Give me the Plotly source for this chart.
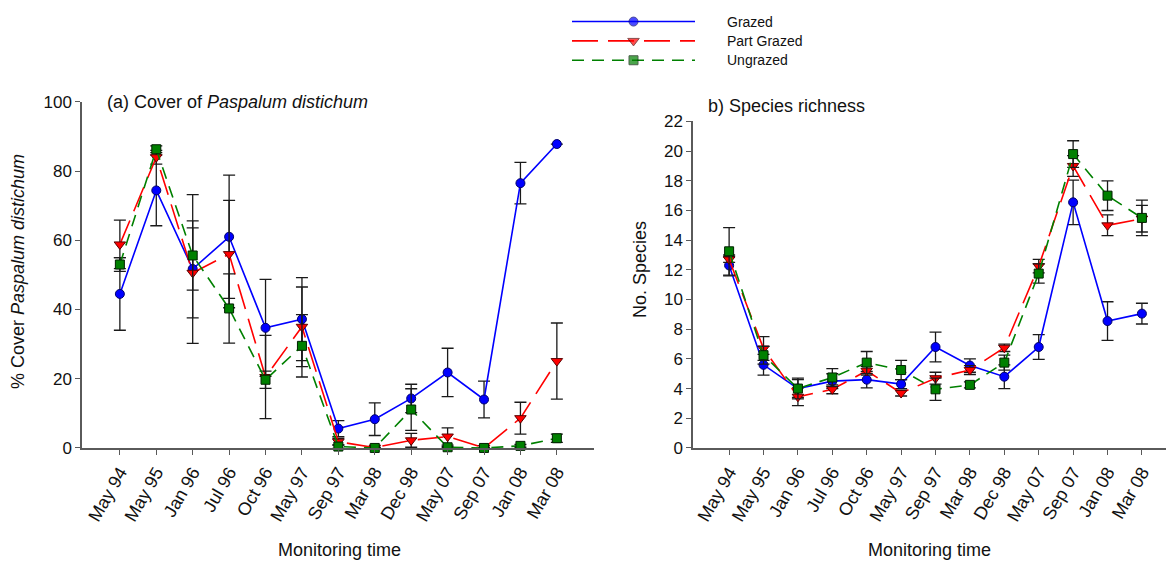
import math
import plotly.graph_objects as go

# Monitoring dates (categories on both panels)
months = ["May 94", "May 95", "Jan 96", "Jul 96", "Oct 96", "May 97", "Sep 97",
          "Mar 98", "Dec 98", "May 07", "Sep 07", "Jan 08", "Mar 08"]

NA = float("nan")

# (a) % cover of Paspalum distichum, mean and standard error
grazed_cover = [44.5, 74.4, 51.7, 61.0, 34.7, 37.2, 5.6, 8.3, 14.3, 21.8, 14.0, 76.5, 87.8]
grazed_cover_se = [10.5, 10.2, 21.5, 17.8, 14.0, 12.0, 2.3, 4.7, 4.1, 7.0, 5.3, 6.0, NA]
part_cover = [58.8, 84.0, 50.6, 56.0, 20.5, 35.0, 1.8, 0.1, 2.2, 3.3, 0.0, 8.6, 25.1]
part_cover_se = [7.0, 2.0, 13.0, 15.5, 12.0, 11.5, 1.0, 0.1, 2.0, 2.5, 0.0, 4.6, 11.0]
ungrazed_cover = [53.0, 86.3, 55.6, 40.3, 19.7, 29.5, 0.4, 0.0, 11.1, 0.2, 0.0, 0.6, 2.8]
ungrazed_cover_se = [2.0, 1.0, 10.0, 10.0, 2.5, 9.0, 0.5, 0.0, 6.0, 0.2, 0.0, 0.4, 1.2]

# (b) species richness, mean and standard error
grazed_rich = [12.3, 5.6, 4.0, 4.5, 4.6, 4.3, 6.8, 5.55, 4.8, 6.8, 16.55, 8.55, 9.05]
grazed_rich_se = [0.7, 0.7, 0.6, 0.5, 0.55, 0.3, 1.0, 0.45, 0.8, 0.83, 1.5, 1.3, 0.7]
part_rich = [12.7, 6.7, 3.45, 3.95, 5.2, 3.7, 4.7, 5.25, 6.75, 12.25, 19.0, 15.0, 15.45]
part_rich_se = [0.2, 0.8, 0.6, 0.3, 0.3, 0.2, 0.4, 0.3, 0.25, 0.45, 0.7, 0.7, 0.9]
ungrazed_rich = [13.25, 6.25, 4.0, 4.75, 5.75, 5.25, 3.95, 4.25, 5.75, 11.75, 19.8, 17.0, 15.5]
ungrazed_rich_se = [1.6, 0.6, 0.7, 0.6, 0.75, 0.65, 0.75, 0.2, 0.5, 0.65, 0.9, 1.0, 1.2]

treatments = ["Grazed", "Part Grazed", "Ungrazed"]

FONT = "Liberation Sans, Arial, sans-serif"
W, H = 1166, 573

styles = {
    "Grazed": dict(color="#0000FF", dash="solid", symbol="circle", size=9, edge="#00006A"),
    "Part Grazed": dict(color="#FF0000", dash="26px,10px", symbol="triangle-down", size=10, edge="#5A0000"),
    "Ungrazed": dict(color="#008000", dash="12px,8px", symbol="square", size=9, edge="#002000"),
}

cover = {"Grazed": (grazed_cover, grazed_cover_se),
         "Part Grazed": (part_cover, part_cover_se),
         "Ungrazed": (ungrazed_cover, ungrazed_cover_se)}
rich = {"Grazed": (grazed_rich, grazed_rich_se),
        "Part Grazed": (part_rich, part_rich_se),
        "Ungrazed": (ungrazed_rich, ungrazed_rich_se)}

fig = go.Figure()


def series(name, vals, errs, xa, ya):
    s = styles[name]
    return go.Scatter(
        x=months, y=vals, xaxis=xa, yaxis=ya, name=name, mode="lines+markers",
        showlegend=False, cliponaxis=False,
        line=dict(color=s["color"], width=1.6, dash=s["dash"]),
        marker=dict(symbol=s["symbol"], size=s["size"], color=s["color"],
                    line=dict(color=s["edge"], width=1)),
        error_y=dict(type="data", array=errs, visible=True, color="#1a1a1a",
                     thickness=1.3, width=6),
    )


for t in treatments:
    fig.add_trace(series(t, *cover[t], "x", "y"))
for t in treatments:
    fig.add_trace(series(t, *rich[t], "x2", "y2"))

# Key: long line samples on a hidden axis above the panels
for i, t in enumerate(treatments):
    s = styles[t]
    fig.add_trace(go.Scatter(
        x=[0, 0.5, 1], y=[i, i, i], xaxis="x3", yaxis="y3", mode="lines+markers",
        showlegend=False, hoverinfo="skip", cliponaxis=False,
        line=dict(color=s["color"], width=1.6, dash=s["dash"]),
        marker=dict(symbol=s["symbol"], size=[0, s["size"], 0], color=s["color"],
                    line=dict(color=s["edge"], width=[0, 1, 0])),
    ))

axis_common = dict(showline=True, linecolor="#5a5a5a", linewidth=1.5, ticks="outside",
                   ticklen=5, tickwidth=1.2, tickcolor="#5a5a5a", showgrid=False,
                   zeroline=False)
xfont = dict(family=FONT, size=18, color="#111")
yfont = dict(family=FONT, size=17, color="#111")

y_bottom = (H - 454) / H

fig.update_layout(
    width=W, height=H, margin=dict(l=0, r=0, t=0, b=0),
    paper_bgcolor="white", plot_bgcolor="white",
    font=dict(family=FONT, color="#111"),
    showlegend=False,
    xaxis=dict(domain=[82 / W, 594 / W], anchor="y", type="category",
               range=[-1.04, 13.02], tickangle=-60, tickfont=xfont, **axis_common),
    yaxis=dict(domain=[y_bottom, (H - 96) / H], anchor="x", range=[0, 100],
               tickvals=[0, 20, 40, 60, 80, 100], tickfont=yfont, **axis_common),
    xaxis2=dict(domain=[693 / W, 1.0], anchor="y2", type="category",
                range=[-1.05, 12.7], tickangle=-60, tickfont=xfont, **axis_common),
    yaxis2=dict(domain=[y_bottom, (H - 116.3) / H], anchor="x2", range=[0, 22],
                tickvals=list(range(0, 23, 2)), tickfont=yfont, **axis_common),
    xaxis3=dict(domain=[572 / W, 695 / W], anchor="y3", range=[0, 1], visible=False),
    yaxis3=dict(domain=[(H - 63) / H, (H - 3) / H], anchor="x3", range=[2.5, -0.5],
                visible=False),
)

annotations = [
    dict(text="(a) Cover of <i>Paspalum distichum</i>", x=105 / W, y=(H - 96) / H,
         xanchor="left", yanchor="middle", font=dict(size=18)),
    dict(text="b) Species richness", x=706 / W, y=(H - 100) / H,
         xanchor="left", yanchor="middle", font=dict(size=18)),
    dict(text="% Cover <i>Paspalum distichum</i>", x=18 / W, y=(H - 272) / H,
         textangle=-90, xanchor="center", yanchor="middle", font=dict(size=18)),
    dict(text="No. Species", x=640 / W, y=(H - 270) / H,
         textangle=-90, xanchor="center", yanchor="middle", font=dict(size=18)),
    dict(text="Monitoring time", x=339 / W, y=(H - 560) / H,
         xanchor="center", yanchor="middle", font=dict(size=18)),
    dict(text="Monitoring time", x=929 / W, y=(H - 560) / H,
         xanchor="center", yanchor="middle", font=dict(size=18)),
]
for i, t in enumerate(treatments):
    annotations.append(dict(text=t, xref="paper", yref="y3", x=725 / W, y=i,
                            xanchor="left", yanchor="middle", font=dict(size=14)))

for a in annotations:
    a.setdefault("xref", "paper")
    a.setdefault("yref", "paper")
    a["showarrow"] = False
    a["font"]["family"] = FONT
    a["font"]["color"] = "#111"

fig.update_layout(annotations=annotations)

fig.write_html("out.html")
